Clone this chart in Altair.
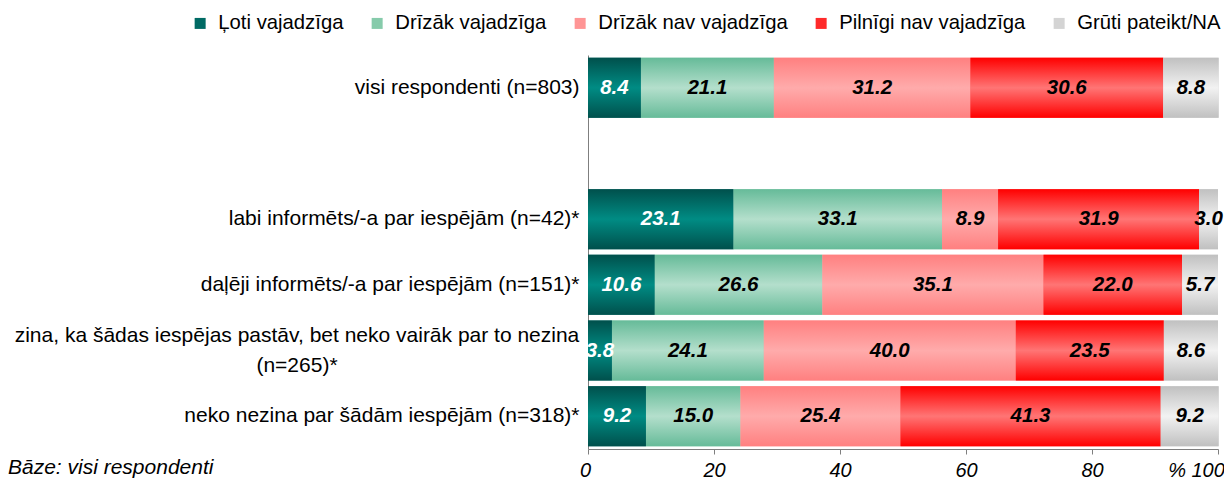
import altair as alt
import pandas as pd

groups = [
    "visi respondenti (n=803)",
    "labi informēts/-a par iespējām (n=42)*",
    "daļēji informēts/-a par iespējām (n=151)*",
    "zina, ka šādas iespējas pastāv, bet neko vairāk par to nezina|(n=265)*",
    "neko nezina par šādām iespējām (n=318)*",
]
y_domain = [groups[0], " "] + groups[1:]

categories = ["Ļoti vajadzīga", "Drīzāk vajadzīga", "Drīzāk nav vajadzīga",
              "Pilnīgi nav vajadzīga", "Grūti pateikt/NA"]
v_loti = [8.4, 23.1, 10.6, 3.8, 9.2]
v_drizak = [21.1, 33.1, 26.6, 24.1, 15.0]
v_drizak_nav = [31.2, 8.9, 35.1, 40.0, 25.4]
v_pilnigi_nav = [30.6, 31.9, 22.0, 23.5, 41.3]
v_gruti = [8.8, 3.0, 5.7, 8.6, 9.2]
series = [v_loti, v_drizak, v_drizak_nav, v_pilnigi_nav, v_gruti]

x_ticks = [0, 20, 40, 60, 80, 100]
note_text = "Bāze: visi respondenti"

legend_colors = ["#006a64", "#86cbab", "#ff9595", "#ff2a2a", "#d4d4d4"]
grad_edges = ["#00504c", "#66bb99", "#ff8080", "#ff0000", "#c0c0c0"]
grad_mids = ["#008c84", "#b4dfcc", "#ffabab", "#ff7575", "#f2f2f2"]

rows = []
for gi, g in enumerate(groups):
    for ci, c in enumerate(categories):
        rows.append({"group": g, "cat": c, "order": ci, "value": series[ci][gi]})
df = pd.DataFrame(rows)

FONT = "Liberation Sans"

y_enc = alt.Y(
    "group:N",
    scale=alt.Scale(domain=y_domain, paddingInner=0.087, paddingOuter=0.0435),
    axis=alt.Axis(
        title=None, ticks=False, labelFont=FONT, labelFontSize=21, labelColor="#000000",
        labelPadding=9, labelLimit=700,
        labelExpr="indexof(datum.label,'|') >= 0 ? '' : datum.label",
        domainColor="#7f7f7f", labelAlign="right", labelBaseline="middle",
    ),
)
x_scale = alt.Scale(domain=[0, 100], nice=False)
x_axis = alt.Axis(
    title=None, values=x_ticks, grid=False, tickSize=5, tickColor="#7f7f7f",
    domainColor="#7f7f7f", labelFont=FONT, labelFontSize=20, labelFontStyle="italic",
    labelColor="#000000", labelPadding=6, labelFlush=False,
    labelOffset={"condition": [{"test": "datum.value == 100", "value": -22},
                               {"test": "datum.value == 0", "value": -3}], "value": 0},
    labelExpr="datum.value == 100 ? '% 100' : datum.label",
)

base = alt.Chart(df).transform_stack(
    stack="value", groupby=["group"], sort=[alt.SortField("order")], as_=["x0", "x1"]
)

legend_layer = base.mark_bar().encode(
    y=y_enc,
    x=alt.X("x0:Q", scale=x_scale, axis=x_axis),
    x2="x1:Q",
    color=alt.Color(
        "cat:N",
        scale=alt.Scale(domain=categories, range=legend_colors),
        legend=alt.Legend(
            title=None, orient="none", direction="horizontal", legendX=-398, legendY=-42,
            symbolType="square", symbolSize=121, symbolStrokeWidth=0, labelFont=FONT,
            labelFontSize=20.3, labelColor="#000000", columnPadding=23, labelOffset=8,
            labelLimit=400,
        ),
    ),
)

layers = [legend_layer]
for ci, c in enumerate(categories):
    grad = alt.Gradient(
        gradient="linear",
        stops=[
            alt.GradientStop(color=grad_edges[ci], offset=0),
            alt.GradientStop(color=grad_mids[ci], offset=0.5),
            alt.GradientStop(color=grad_edges[ci], offset=1),
        ],
        x1=0, x2=0, y1=0, y2=1,
    )
    layers.append(
        base.transform_filter(alt.datum.cat == c)
        .mark_bar(color=grad)
        .encode(y=alt.Y("group:N"), x=alt.X("x0:Q"), x2="x1:Q")
    )

text_layer = base.transform_calculate(mid="(datum.x0 + datum.x1) / 2").mark_text(
    font=FONT, fontSize=20.5, fontStyle="italic", fontWeight="bold", baseline="middle",
    align="center",
).encode(
    y=alt.Y("group:N"),
    x=alt.X("mid:Q"),
    text=alt.Text("value:Q", format=".1f"),
    color=alt.condition(alt.datum.cat == categories[0], alt.value("#ffffff"), alt.value("#000000")),
)
layers.append(text_layer)

# two-line category label, centred like the original
wrap_df = pd.DataFrame({"group": [g for g in groups if "|" in g]})
wrap_label = alt.Chart(wrap_df).mark_text(
    font=FONT, fontSize=21, align="center", baseline="middle", lineBreak="|",
    lineHeight=30.5, dy=-15, color="#000000",
).encode(y=alt.Y("group:N"), text="group:N", x=alt.value(-291))
layers.append(wrap_label)

note = alt.Chart(pd.DataFrame({"t": [note_text]})).mark_text(
    font=FONT, fontSize=21, fontStyle="italic", align="left", baseline="alphabetic",
    color="#000000",
).encode(text="t:N", x=alt.value(-580), y=alt.value(419))
layers.append(note)

chart = alt.layer(*layers).properties(
    width=630, height=394,
    autosize=alt.AutoSizeParams(type="none"),
    padding={"left": 580, "top": 47, "right": 6, "bottom": 31},
).configure_view(stroke=None)

chart.save("out.html", embed_options={"renderer": "svg", "actions": False})
